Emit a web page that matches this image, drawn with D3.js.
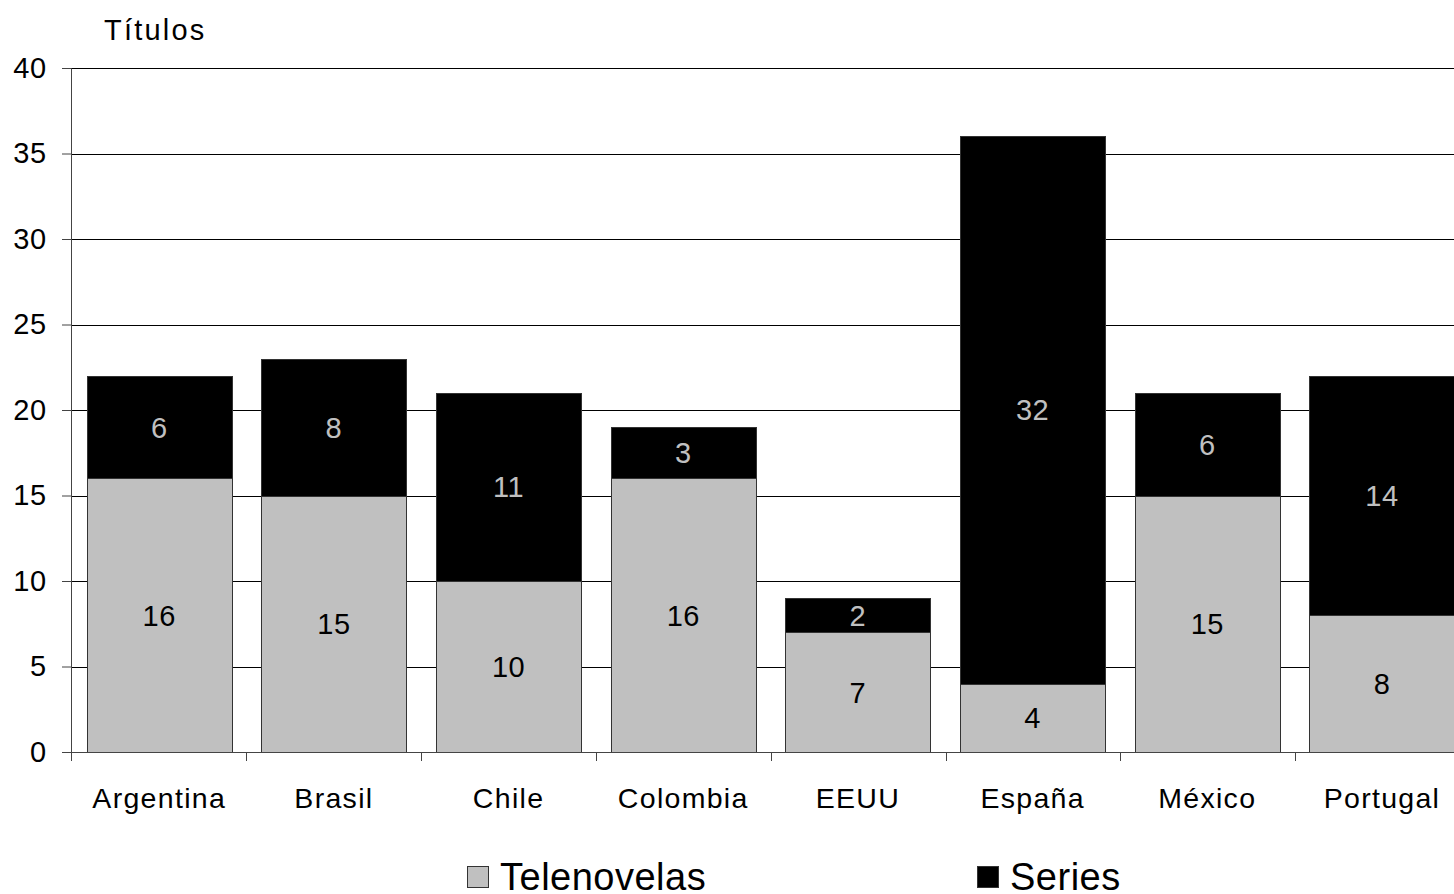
<!DOCTYPE html>
<html>
<head>
<meta charset="utf-8">
<script src="https://cdn.jsdelivr.net/npm/d3@7"></script>
<style>
  html, body { margin: 0; padding: 0; background: #fff; overflow: hidden; }
  text { font-family: "Liberation Sans", Arial, sans-serif; }
</style>
</head>
<body>
<div id="chart"></div>
<script>
(function () {
  // data
  const categories = ['Argentina', 'Brasil', 'Chile', 'Colombia', 'EEUU', 'España', 'México', 'Portugal'];
  const telenovelas = [16, 15, 10, 16, 7, 4, 15, 8];
  const series = [6, 8, 11, 3, 2, 32, 6, 14];
  const yTicks = [0, 5, 10, 15, 20, 25, 30, 35, 40];
  const seriesNames = ['Telenovelas', 'Series'];
  const colors = ['#c0c0c0', '#000000'];
  const labelColors = ['#000000', '#c0c0c0'];

  const W = 1454, H = 894;
  const margin = { top: 68, left: 71 };
  const plotH = 752 - 68;
  const band = 174.9;

  const svg = d3.select('#chart').append('svg')
    .attr('width', W).attr('height', H);

  const g = svg.append('g')
    .attr('transform', 'translate(' + margin.left + ',' + margin.top + ')');

  const x = d3.scaleBand()
    .domain(categories)
    .range([0, band * categories.length])
    .paddingInner(0.17)
    .paddingOuter(0.09);

  const y = d3.scaleLinear().domain([0, 40]).range([plotH, 0]);

  //gridlines
  g.append('g').selectAll('line')
    .data(yTicks.filter(d => d > 0))
    .enter().append('line')
    .attr('x1', 0).attr('x2', W - margin.left)
    .attr('y1', d => Math.round(y(d)) + 0.5).attr('y2', d => Math.round(y(d)) + 0.5)
    .attr('stroke', '#000').attr('stroke-width', 1);

  //stack
  const rows = categories.map((c, i) => ({ cat: c, Telenovelas: telenovelas[i], Series: series[i] }));
  const stacked = d3.stack().keys(seriesNames)(rows);

  const layer = g.selectAll('g.layer')
    .data(stacked)
    .enter().append('g')
    .attr('class', 'layer');

  layer.selectAll('rect')
    .data((d, i) => d.map(p => ({ p, i })))
    .enter().append('rect')
    .attr('x', d => Math.round(x(d.p.data.cat)) + 0.5)
    .attr('y', d => Math.round(y(d.p[1])) + 0.5)
    .attr('width', Math.round(x.bandwidth()))
    .attr('height', d => Math.round(y(d.p[0])) - Math.round(y(d.p[1])))
    .attr('fill', d => colors[d.i])
    .attr('stroke', '#333')
    .attr('stroke-width', 1);

  layer.selectAll('text')
    .data((d, i) => d.map(p => ({ p, i })))
    .enter().append('text')
    .attr('x', d => x(d.p.data.cat) + x.bandwidth() / 2)
    .attr('y', d => (y(d.p[0]) + y(d.p[1])) / 2)
    .attr('dy', '0.36em')
    .attr('text-anchor', 'middle')
    .attr('font-size', 29)
    .attr('letter-spacing', 0.5)
    .attr('fill', d => labelColors[d.i])
    .text(d => d.p[1] - d.p[0]);

  //y axis
  const yAxis = d3.axisLeft(y).tickValues(yTicks).tickSize(9).tickPadding(15);
  const ya = g.append('g').call(yAxis);
  ya.select('.domain').attr('stroke', '#444');
  ya.selectAll('.tick line').attr('stroke', '#444');
  ya.selectAll('text').attr('font-size', 29).attr('fill', '#000')
    .attr('letter-spacing', 0.8)
    .style('font-family', '"Liberation Sans", Arial, sans-serif');

  //x axis
  const xa = g.append('g').attr('transform', 'translate(0,' + plotH + ')');
  xa.append('line')
    .attr('x1', 0).attr('x2', W - margin.left)
    .attr('y1', 0.5).attr('y2', 0.5)
    .attr('stroke', '#444');
  xa.selectAll('line.tk')
    .data(d3.range(categories.length))
    .enter().append('line')
    .attr('class', 'tk')
    .attr('x1', i => Math.round(i * band) + 0.5).attr('x2', i => Math.round(i * band) + 0.5)
    .attr('y1', 0).attr('y2', 9)
    .attr('stroke', '#444');
  xa.selectAll('text')
    .data(categories)
    .enter().append('text')
    .attr('x', d => x(d) + x.bandwidth() / 2)
    .attr('y', 56)
    .attr('text-anchor', 'middle')
    .attr('font-size', 28.5)
    .attr('letter-spacing', 1.3)
    .text(d => d);

  //axis title
  svg.append('text')
    .attr('x', 104).attr('y', 40)
    .attr('font-size', 29)
    .attr('letter-spacing', 2.2)
    .text('Títulos');

  //legend
  const legendX = [467, 977];
  const legend = svg.selectAll('g.legend')
    .data(seriesNames)
    .enter().append('g')
    .attr('class', 'legend')
    .attr('transform', (d, i) => 'translate(' + legendX[i] + ',866)');
  legend.append('rect')
    .attr('x', 0.5).attr('y', 0.5)
    .attr('width', 21).attr('height', 21)
    .attr('fill', (d, i) => colors[i])
    .attr('stroke', '#333');
  legend.append('text')
    .attr('x', 33).attr('y', 24)
    .attr('font-size', 38)
    .attr('letter-spacing', 0.5)
    .text(d => d);
})();
</script>
</body>
</html>
